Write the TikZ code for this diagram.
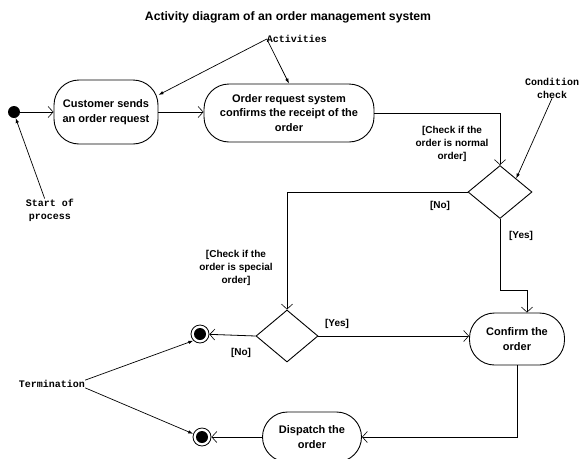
\documentclass[tikz,border=0pt]{standalone}
\usepackage{fontspec}
\setmainfont{Liberation Sans}
\setmonofont{Liberation Mono}
\usetikzlibrary{shapes.geometric,arrows.meta,calc}
\begin{document}
\begin{tikzpicture}[x=1pt,y=-1pt,
  act/.style={draw,line width=0.9pt,rounded corners=25pt,align=center,
    font=\bfseries\fontsize{11}{14.5}\selectfont,inner sep=0pt},
  dec/.style={draw,diamond,line width=0.9pt,inner sep=0pt},
  flow/.style={line width=0.8pt,-{Straight Barb[length=5pt,width=11pt,line width=0.6pt]}},
  annot/.style={line width=0.7pt,-{Latex[length=5pt,width=3.5pt]}},
  guard/.style={font=\bfseries\fontsize{10}{13}\selectfont,align=center,inner sep=0pt},
  note/.style={font=\ttfamily\bfseries\fontsize{10}{13}\selectfont,align=center,inner sep=0pt},
  endc/.style={circle,draw,line width=0.8pt,minimum size=18pt,inner sep=0pt,
    path picture={\fill (path picture bounding box.center) circle (6pt);}},
  startc/.style={circle,fill=black,minimum size=12pt,inner sep=0pt}
]
\useasboundingbox (0,0) rectangle (583,458);

% title and notes
\node[font=\bfseries\fontsize{12.2}{14}\selectfont,inner sep=0pt] (title) at (288,17) {Activity diagram of an order management system};
\node[note] (actl) at (297,39) {Activities};
\node[note] (cond) at (552,88) {Condition\\check};
\node[note] (startl) at (50,210) {Start of\\process};
\node[note] (term) at (52,384) {Termination};

% nodes
\node[startc] (start) at (14,112) {};
\node[act,minimum width=104pt,minimum height=64pt] (cust) at (106,112) {Customer sends\\an order request};
\node[act,minimum width=170pt,minimum height=58pt] (order) at (289,113) {Order request system\\confirms the receipt of the\\order};
\node[dec,minimum width=64pt,minimum height=53pt] (d1) at (500,192) {};
\node[dec,minimum width=62pt,minimum height=52pt] (d2) at (287,336) {};
\node[act,minimum width=95pt,minimum height=52pt] (confirm) at (517,339) {Confirm the\\order};
\node[act,minimum width=99pt,minimum height=50pt] (dispatch) at (312,437) {Dispatch the\\order};
\node[endc] (end1) at (200,334) {};
\node[endc] (end2) at (202,437) {};
\coordinate (bendA) at (527,290);

% guards
\node[guard] (g1) at (452,144) {[Check if the\\order is normal\\order]};
\node[guard] (g2) at (236,268) {[Check if the\\order is special\\order]};
\node[guard] (no1) at (440,206) {[No]};
\node[guard] (yes1) at (521,236) {[Yes]};
\node[guard] (yes2) at (337,324) {[Yes]};
\node[guard] (no2) at (241,353) {[No]};

% flows
\draw[flow] (start) -- (cust.west |- start);
\draw[flow] (cust.east) -- (order.west |- cust.east);
\draw[flow] (order.east) -| (d1.north);
\draw[flow] (d1.west) -| (d2.north);
\draw[flow] (d1.south) |- (bendA) -- (bendA |- confirm.north);
\draw[flow] (d2.east) -- (confirm.west |- d2.east);
\draw[flow] (d2.west) -- (end1);
\draw[flow] (confirm.south) |- (dispatch.east);
\draw[flow] (dispatch.west) -- (end2);

% annotations
\draw[annot] (actl.west) -- (cust.18);
\draw[annot] (actl.west) -- (order.north);
\draw[annot] (cond.south) -- (d1.north east);
\draw[annot] (startl.115) -- (start.-75);
\draw[annot] (term.north east) -- (end1.south west);
\draw[annot] (term.south east) -- (end2.160);
\end{tikzpicture}
\end{document}
